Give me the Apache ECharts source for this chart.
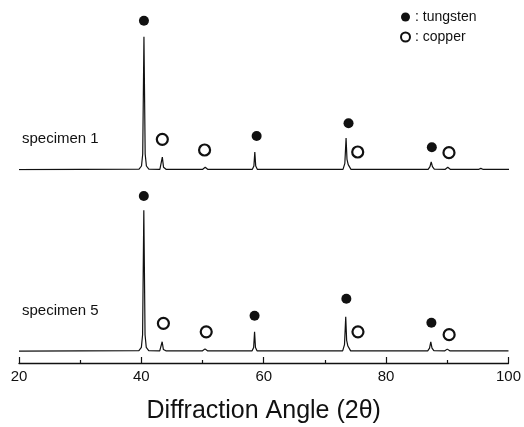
<!DOCTYPE html>
<html><head><meta charset="utf-8">
<script src="https://cdn.jsdelivr.net/npm/echarts@6/dist/echarts.min.js"></script>
<style>html,body{margin:0;padding:0;background:#fff}#c{width:524px;height:427px}</style>
</head><body><div id="c"></div>
<script>
// Diffraction angle ticks
const xTicks = [20, 40, 60, 80, 100];

// Specimen 1 profile (2θ, relative intensity)
const spec1Angle = [20, 30, 39.6, 40.0, 40.2, 40.4, 40.6, 40.8, 41.2, 43.0, 43.2, 43.4, 43.6, 44.0, 50.0, 50.4, 50.8, 58.1, 58.35, 58.5, 58.65, 58.9, 72.9, 73.2, 73.4, 73.55, 73.75, 74.2, 86.8, 87.1, 87.3, 87.5, 87.8, 89.6, 90.0, 90.4, 95.0, 95.4, 95.8, 100];
const spec1Int   = [0.3, 0.5, 0.6, 3, 12, 100, 12, 3, 0.6, 0.5, 2, 9.7, 2, 0.5, 0.5, 2, 0.5, 0.5, 3, 13.5, 3, 0.5, 0.5, 5, 24, 8, 4, 0.5, 0.5, 2.5, 6, 2.5, 0.6, 0.5, 2, 0.5, 0.4, 1.2, 0.4, 0.4];

// Specimen 5 profile (2θ, relative intensity)
const spec5Angle = [20, 30, 39.6, 40.0, 40.2, 40.4, 40.6, 40.8, 41.2, 43.0, 43.2, 43.4, 43.6, 44.0, 50.0, 50.4, 50.8, 58.1, 58.35, 58.5, 58.65, 58.9, 72.9, 73.2, 73.4, 73.55, 73.75, 74.2, 86.8, 87.1, 87.3, 87.5, 87.8, 89.6, 90.0, 90.4, 100];
const spec5Int   = [0.4, 0.6, 0.7, 3, 12, 100, 12, 3, 0.7, 0.6, 1.5, 7, 1.5, 0.6, 0.6, 2, 0.6, 0.6, 3, 14, 3, 0.6, 0.6, 5, 24.7, 8, 4, 0.6, 0.6, 2.5, 7, 2.5, 0.7, 0.6, 1.8, 0.6, 0.6];

// Phase markers (2θ, marker height)
const spec1W_Angle  = [40.4, 58.8, 73.8, 87.4];
const spec1W_Level  = [112, 25.5, 35, 17];
const spec1Cu_Angle = [43.4, 50.3, 75.3, 90.2];
const spec1Cu_Level = [23, 15, 13.5, 13];
const spec5W_Angle  = [40.4, 58.5, 73.5, 87.4];
const spec5W_Level  = [110, 25.4, 37.4, 20.5];
const spec5Cu_Angle = [43.6, 50.6, 75.4, 90.3];
const spec5Cu_Level = [20, 14, 14, 12];

const specimenLabels = ['specimen 1', 'specimen 5'];
const legendNames = [': tungsten', ': copper'];
const axisTitle = 'Diffraction Angle (2\u03b8)';

const zip = (a, b) => a.map((v, i) => [v, b[i]]);
const FONT = 'Liberation Sans, Arial, Helvetica, sans-serif';
const INK = '#111';

const chart = echarts.init(document.getElementById('c'));
const wStyle = { color: INK, opacity: 1 };
const cuStyle = { color: '#fff', borderColor: INK, borderWidth: 2.2, opacity: 1 };

chart.setOption({
  animation: false,
  backgroundColor: '#fff',
  textStyle: { fontFamily: FONT, color: INK },
  legend: {
    data: legendNames.map(n => ({ name: n, icon: 'circle' })),
    orient: 'vertical', left: 395, top: 5, itemWidth: 9, itemHeight: 9, itemGap: 6,
    textStyle: { fontFamily: FONT, fontSize: 14, color: INK }
  },
  graphic: [
    { type: 'text', left: 22, top: 131, style: { text: specimenLabels[0], font: '15px ' + FONT, fill: INK } },
    { type: 'text', left: 22, top: 303, style: { text: specimenLabels[1], font: '15px ' + FONT, fill: INK } }
  ],
  grid: [
    { left: 19, right: 15, top: 10, height: 160 },
    { left: 19, right: 15, top: 196, bottom: 64 }
  ],
  xAxis: [
    { gridIndex: 0, type: 'value', min: 20, max: 100, show: false },
    { gridIndex: 1, type: 'value', min: 20, max: 100, interval: 20,
      axisLine: { onZero: false, lineStyle: { color: INK, width: 1.3 } },
      axisTick: { show: true, inside: true, length: 6, lineStyle: { color: INK, width: 1.2 } },
      minorTick: { show: true, splitNumber: 2, length: 3, lineStyle: { color: INK, width: 1.2 } },
      splitLine: { show: false },
      axisLabel: { fontSize: 15, color: INK, margin: 6, fontFamily: FONT },
      name: axisTitle, nameLocation: 'middle', nameGap: 36,
      nameTextStyle: { fontSize: 25, color: INK, fontFamily: FONT } }
  ],
  yAxis: [
    { gridIndex: 0, type: 'value', min: 0, max: 120, show: false },
    { gridIndex: 1, type: 'value', min: -8, max: 110, show: false }
  ],
  series: [
    { type: 'line', xAxisIndex: 0, yAxisIndex: 0, data: zip(spec1Angle, spec1Int), symbol: 'none',
      lineStyle: { color: INK, width: 1.2 }, silent: true },
    { type: 'line', xAxisIndex: 1, yAxisIndex: 1, data: zip(spec5Angle, spec5Int), symbol: 'none',
      lineStyle: { color: INK, width: 1.2 }, silent: true },
    { name: legendNames[0], type: 'scatter', xAxisIndex: 0, yAxisIndex: 0, clip: false,
      data: zip(spec1W_Angle, spec1W_Level), symbolSize: 10, itemStyle: wStyle },
    { name: legendNames[1], type: 'scatter', xAxisIndex: 0, yAxisIndex: 0, clip: false,
      data: zip(spec1Cu_Angle, spec1Cu_Level), symbolSize: 11, itemStyle: cuStyle },
    { name: legendNames[0], type: 'scatter', xAxisIndex: 1, yAxisIndex: 1, clip: false,
      data: zip(spec5W_Angle, spec5W_Level), symbolSize: 10, itemStyle: wStyle },
    { name: legendNames[1], type: 'scatter', xAxisIndex: 1, yAxisIndex: 1, clip: false,
      data: zip(spec5Cu_Angle, spec5Cu_Level), symbolSize: 11, itemStyle: cuStyle }
  ]
});
</script></body></html>
